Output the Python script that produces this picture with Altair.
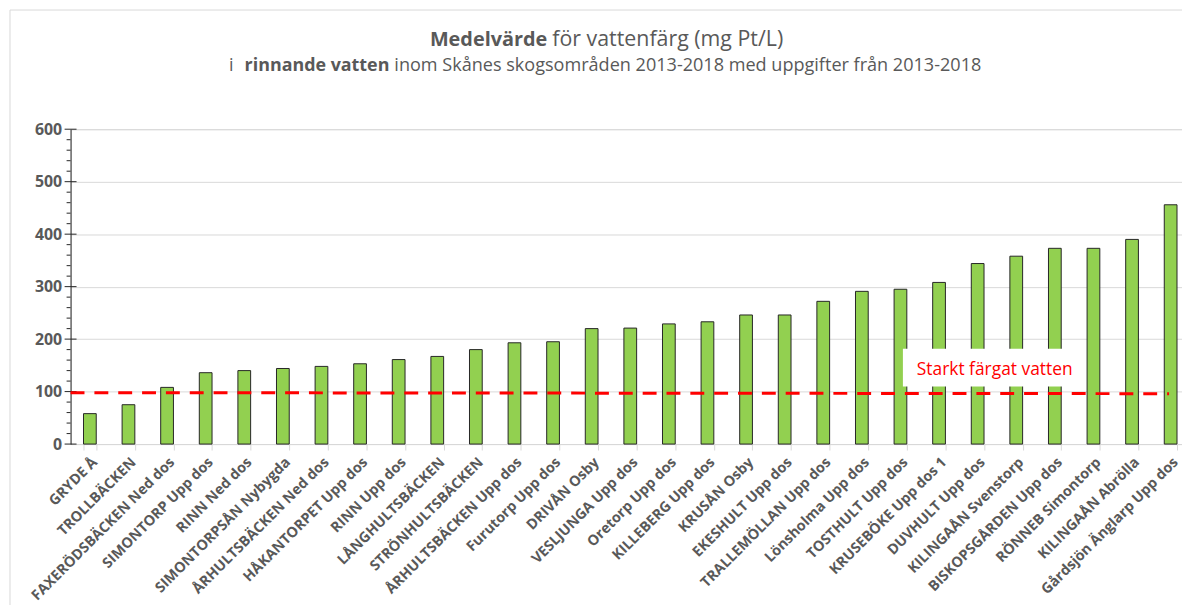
import altair as alt
import pandas as pd

stations = [
    "GRYDE Å", "TROLLBÄCKEN", "FAXERÖDSBÄCKEN Ned dos", "SIMONTORP Upp dos",
    "RINN Ned dos", "SIMONTORPSÅN Nybygda", "ÅRHULTSBÄCKEN Ned dos",
    "HÅKANTORPET Upp dos", "RINN Upp dos", "LÅNGHULTSBÄCKEN", "STRÖNHULTSBÄCKEN",
    "ÅRHULTSBÄCKEN Upp dos", "Furutorp Upp dos", "DRIVÅN Osby", "VESLJUNGA Upp dos",
    "Oretorp Upp dos", "KILLEBERG Upp dos", "KRUSÅN Osby", "EKESHULT Upp dos",
    "TRALLEMÖLLAN Upp dos", "Lönsholma Upp dos", "TOSTHULT Upp dos",
    "KRUSEBÖKE Upp dos 1", "DUVHULT Upp dos", "KILINGAÅN Svenstorp",
    "BISKOPSGÅRDEN Upp dos", "RÖNNEB Simontorp", "KILINGAÅN Abrölla",
    "Gårdsjön Änglarp Upp dos",
]
values = [
    58, 75, 108, 136, 140, 144, 148, 153, 161, 167, 180, 193, 195, 220, 221,
    229, 233, 246, 246, 272, 291, 295, 308, 344, 358, 373, 373, 390, 456,
]
threshold_start = [98]
threshold_end = [96]
threshold_label = "Starkt färgat vatten"
major_ticks = [0, 100, 200, 300, 400, 500, 600]
minor_ticks = [v for v in range(20, 600, 20) if v % 100 != 0]

title_bold = "Medelvärde"
title_rest = "för vattenfärg (mg Pt/L)"
sub_pre = "i"
sub_bold = "rinnande vatten"
sub_rest = "inom Skånes skogsområden 2013-2018 med uppgifter från 2013-2018"

FONT = "Open Sans"
GREY = "#595959"
N = len(stations)
W = 1127
H = 317

df = pd.DataFrame({"station": stations, "value": values})
df_thr = pd.DataFrame({"value": threshold_start, "end": threshold_end})
df_major = pd.DataFrame({"value": major_ticks})
df_minor = pd.DataFrame({"value": minor_ticks})
one = pd.DataFrame({"d": [0]})

xscale = alt.Scale(paddingInner=0.67, paddingOuter=0.335)
yscale = alt.Scale(domain=[0, 600], nice=False)
yaxis = alt.Axis(title=None, values=major_ticks, grid=True, gridColor="#d9d9d9",
                 domainColor="#262626", ticks=False, labelFont=FONT,
                 labelFontWeight="bold", labelFontSize=16, labelColor=GREY,
                 labelPadding=9)
Y = alt.Y("value:Q", scale=yscale, axis=yaxis)

bars = alt.Chart(df).mark_bar(fill="#92D050", stroke="#262626", strokeWidth=1).encode(
    x=alt.X("station:N", sort=None, scale=xscale,
            axis=alt.Axis(title=None, labelAngle=-45, labelFont=FONT, labelFontWeight="bold",
                          labelFontSize=14.5, labelColor=GREY, domainColor="#d9d9d9",
                          tickColor="#d9d9d9", tickSize=6, tickBand="extent", grid=False,
                          labelPadding=5, labelOverlap=False, labelLimit=300)),
    y=Y,
)

minor = alt.Chart(df_minor).mark_rule(color="#262626", strokeWidth=1).encode(
    x=alt.value(-4), x2=alt.value(0), y=Y)
major = alt.Chart(df_major).mark_rule(color="#262626", strokeWidth=1).encode(
    x=alt.value(-6), x2=alt.value(6), y=Y)

thr = alt.Chart(df_thr).mark_rule(color="#FF0000", strokeWidth=3, strokeDash=[14, 10]).encode(
    x=alt.value(0), x2=alt.value(1106), y=Y, y2="end:Q")

box = alt.Chart(one).mark_rect(fill="white").encode(
    x=alt.value(838), x2=alt.value(1014), y=alt.value(221), y2=alt.value(259))
label = alt.Chart(one).mark_text(color="#FF0000", font=FONT, fontSize=17.5, align="left",
                                 baseline="alphabetic").encode(
    x=alt.value(852), y=alt.value(247), text=alt.value(threshold_label))

border = alt.Chart(one).mark_rect(fill="transparent", stroke="#d9d9d9", strokeWidth=1).encode(
    x=alt.value(-61), x2=alt.value(1300), y=alt.value(-120), y2=alt.value(700))

def txt(s, x, y, size, weight, align):
    return alt.Chart(one).mark_text(color=GREY, font=FONT, fontSize=size, fontWeight=weight,
                                    align=align, baseline="alphabetic").encode(
        x=alt.value(x), y=alt.value(y), text=alt.value(s))

t1 = txt(title_bold, 480, -84, 20, "bold", "right")
t2 = txt(title_rest, 485, -84, 21.5, "normal", "left")
s1 = txt(sub_pre, 164, -59, 18, "normal", "right")
s2 = txt(sub_bold, 321, -59, 18, "bold", "right")
s3 = txt(sub_rest, 326, -59, 18.2, "normal", "left")

chart = alt.layer(border, bars, minor, major, thr, box, label, t1, t2, s1, s2, s3).properties(
    width=W, height=H,
    autosize=alt.AutoSizeParams(type="none"),
    padding={"left": 63, "top": 120, "right": -8, "bottom": 160},
).configure_view(strokeWidth=0, stroke="transparent").configure(background="white")

chart.save("out.html", embed_options={"renderer": "svg", "actions": False})
